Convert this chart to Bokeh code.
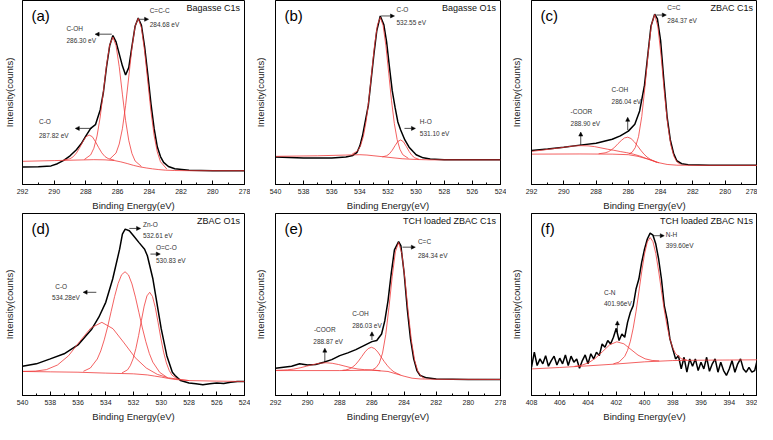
from bokeh.plotting import figure
from bokeh.models import Range1d, SingleIntervalTicker, FixedTicker, Label, Arrow, NormalHead
from bokeh.layouts import column, row
from bokeh.embed import file_html
from bokeh.resources import INLINE

# ---------------- data (intensity in % of panel height) ----------------
# (a) Bagasse C1s
A_BLACK_X = [292, 291, 290.2, 289.8, 289.4, 289.0, 288.6, 288.3, 288.0, 287.7, 287.4, 287.1, 286.9, 286.7, 286.5, 286.3, 286.1, 285.9, 285.7, 285.5, 285.3, 285.1, 284.9, 284.7, 284.5, 284.3, 284.1, 283.9, 283.7, 283.5, 283.3, 283.1, 282.8, 282.4, 281.5, 280, 278]
A_BLACK_Y = [9.5, 9.7, 10.1, 11.3, 13.1, 15.6, 18.9, 22.1, 26.4, 30.5, 32.5, 40.5, 50, 64, 75.5, 81, 77.5, 71, 64.5, 59.5, 63.5, 75, 86, 90.5, 86.5, 75, 60, 44, 30.5, 20.5, 15.2, 12, 9.8, 8.6, 7.8, 7.5, 7.5]
A_BASE_X = [292, 290, 288.5, 287.5, 286.8, 286.2, 285.8, 285.4, 285.0, 284.6, 284.2, 283.8, 283.4, 283.0, 282.4, 281.5, 278]
A_BASE_Y = [12.6, 13.0, 13.3, 13.5, 13.4, 13.0, 12.3, 11.4, 10.4, 9.6, 9.0, 8.5, 8.1, 7.8, 7.6, 7.5, 7.5]
A_CO_X = [289.4, 289.0, 288.8, 288.6, 288.4, 288.2, 288.0, 287.8, 287.6, 287.4, 287.2, 287.0, 286.8, 286.6, 286.2]
A_CO_Y = [13.3, 14.0, 15.1, 17.1, 19.9, 23.2, 25.9, 26.9, 26.0, 23.3, 20.1, 17.2, 15.2, 14.1, 13.2]
A_COH_X = [288.1, 287.7, 287.5, 287.3, 287.1, 286.9, 286.7, 286.5, 286.3, 286.1, 285.9, 285.7, 285.5, 285.3, 285.1, 284.9, 284.5]
A_COH_Y = [13.6, 16.1, 19.7, 26.3, 36.7, 50.4, 64.8, 75.9, 80.1, 75.5, 64.0, 49.1, 34.9, 24.0, 16.9, 12.8, 9.8]
A_CCC_X = [286.5, 286.1, 285.9, 285.7, 285.5, 285.3, 285.1, 284.9, 284.7, 284.5, 284.3, 284.1, 283.9, 283.7, 283.5, 283.3, 282.9]
A_CCC_Y = [13.8, 17.1, 22.0, 30.3, 42.8, 58.4, 74.1, 86.0, 90.3, 85.2, 72.5, 56.1, 39.8, 26.6, 17.7, 12.4, 8.4]

# (b) Bagasse O1s
B_BLACK_X = [540, 538, 536, 535, 534.5, 534.2, 534.0, 533.8, 533.6, 533.4, 533.2, 533.0, 532.8, 532.55, 532.3, 532.1, 531.9, 531.7, 531.5, 531.3, 531.1, 530.8, 530.5, 530.2, 530.0, 529.5, 529, 528, 526, 524]
B_BLACK_Y = [14.9, 14.4, 14.4, 14.9, 15.8, 17.5, 21, 27, 35, 43, 57, 71, 83.5, 91.6, 87, 77.5, 64, 51, 42, 34, 29.6, 24.2, 20.3, 17.8, 16.2, 14.5, 13.8, 13.5, 13.5, 13.5]
B_BASE_X = [540, 537, 535, 534, 533.5, 533, 532, 531, 530, 529, 524]
B_BASE_Y = [15.3, 15.6, 16.0, 16.2, 16.0, 15.6, 14.8, 14.0, 13.6, 13.4, 13.4]
B_CO_X = [534.55, 534.15, 533.95, 533.75, 533.55, 533.35, 533.15, 532.95, 532.75, 532.55, 532.35, 532.15, 531.95, 531.75, 531.55, 531.35, 531.15, 530.95, 530.55]
B_CO_Y = [16.5, 18.3, 21.1, 26.2, 34.7, 46.9, 61.6, 76.0, 86.8, 90.8, 86.5, 75.4, 60.5, 45.5, 33.1, 24.4, 19.1, 16.2, 14.2]
B_HO_X = [532.4, 532.1, 531.9, 531.7, 531.5, 531.3, 531.1, 530.9, 530.7, 530.5, 530.3, 530.1, 529.8]
B_HO_Y = [15.0, 15.6, 16.7, 18.6, 21.1, 23.4, 24.2, 23.2, 20.7, 18.0, 15.8, 14.5, 13.7]

# (c) ZBAC C1s
C_BLACK_X = [292, 291, 290, 289, 288, 287, 286.5, 286.0, 285.6, 285.3, 285.0, 284.8, 284.6, 284.37, 284.2, 284.0, 283.8, 283.6, 283.4, 283.2, 283.0, 282.7, 282.3, 281, 280, 278]
C_BLACK_Y = [18.5, 19.3, 20.3, 21.4, 22.4, 24.6, 26.4, 29.0, 32.7, 40, 54, 70, 86, 92.6, 90, 78, 56.5, 36.8, 24.2, 17, 12.9, 11.3, 10.8, 10.4, 10.4, 10.4]
C_BASE_X = [292, 289, 287, 286, 285.4, 284.8, 284.2, 283.6, 283.0, 282, 278]
C_BASE_Y = [16.5, 16.6, 16.5, 16.2, 15.3, 13.8, 12.0, 10.9, 10.5, 10.4, 10.4]
C_CC_X = [285.97, 285.77, 285.57, 285.37, 285.17, 284.97, 284.77, 284.57, 284.37, 284.17, 283.97, 283.77, 283.57, 283.37, 283.17, 282.97, 282.77]
C_CC_Y = [16.7, 17.5, 20.1, 26.0, 36.9, 53.2, 71.7, 86.8, 92.4, 85.7, 69.6, 50.1, 33.1, 21.5, 15.1, 12.1, 11.0]
C_COH_X = [287.84, 287.44, 287.24, 287.04, 286.84, 286.64, 286.44, 286.24, 286.04, 285.84, 285.64, 285.44, 285.24, 285.04, 284.84, 284.64, 284.24]
C_COH_Y = [16.7, 17.2, 17.8, 18.9, 20.3, 22.2, 23.9, 25.3, 25.7, 25.0, 23.3, 21.1, 18.7, 16.6, 14.9, 13.7, 12.0]
C_COOR_X = [292, 291.7, 291.3, 290.9, 290.5, 290.1, 289.7, 289.3, 288.9, 288.5, 288.1, 287.7, 287.3, 286.9, 286.5, 286.1, 285.7, 285.3, 284.9, 284.1]
C_COOR_Y = [18.0, 18.3, 18.7, 19.2, 19.6, 20.1, 20.6, 21.0, 21.1, 21.0, 20.6, 19.9, 19.2, 18.6, 17.9, 17.3, 16.5, 15.5, 14.2, 11.8]

# (d) ZBAC O1s
D_BLACK_X = [540, 539, 538, 537, 536, 535, 534.5, 534, 533.5, 533, 532.8, 532.6, 532.3, 532, 531.6, 531.2, 531, 530.6, 530.2, 530, 529.6, 529.2, 529, 528.6, 528, 527.5, 527, 526.5, 526, 525.5, 525, 524.5, 524]
D_BLACK_Y = [16.1, 17.4, 20.1, 22.9, 27.8, 36.6, 43, 51.2, 64, 80.4, 88.7, 91.4, 90.5, 87.8, 84, 80.4, 76.8, 64, 45.7, 36.6, 21.9, 12.8, 11, 8.2, 6.9, 6.4, 5.9, 6.4, 6.9, 6.6, 7.3, 7.7, 7.7]
D_BASE_X = [540, 538, 536, 534, 532, 531, 530.5, 530, 529.5, 529, 528, 526, 524]
D_BASE_Y = [13.2, 13.0, 12.8, 12.3, 11.9, 11.3, 10.7, 10.1, 9.4, 8.8, 8.2, 7.9, 7.7]
D_CO_X = [540, 539.08, 538.28, 537.48, 536.68, 535.88, 535.08, 534.28, 533.48, 532.68, 531.88, 531.08, 530.28, 529.48, 528.0]
D_CO_Y = [13.25, 13.4, 14.2, 16.75, 21.85, 29.65, 37.05, 40.2, 36.7, 28.9, 20.8, 15.1, 11.6, 9.7, 8.2]
D_ZNO_X = [535.61, 535.11, 534.61, 534.36, 534.11, 533.86, 533.61, 533.36, 533.11, 532.86, 532.61, 532.36, 532.11, 531.86, 531.61, 531.36, 531.11, 530.86, 530.61, 530.11, 529.61]
D_ZNO_Y = [13.3, 15.1, 20.05, 24.5, 30.55, 37.85, 46.2, 54.45, 61.5, 66.35, 68.0, 66.25, 61.3, 54.05, 45.6, 37.1, 29.55, 23.1, 18.35, 12.7, 10.1]
D_OCO_X = [532.83, 532.43, 532.23, 532.03, 531.83, 531.63, 531.43, 531.23, 531.03, 530.83, 530.63, 530.43, 530.23, 530.03, 529.83, 529.63, 529.43, 529.23, 528.83]
D_OCO_Y = [12.4, 14.1, 16.4, 20.15, 25.75, 33.0, 41.25, 49.1, 54.75, 56.7, 54.4, 48.4, 40.2, 31.5, 23.8, 17.9, 13.8, 11.2, 9.0]

# (e) TCH loaded ZBAC C1s
E_BLACK_X = [292, 291, 290.5, 290, 289.5, 289, 288.5, 288, 287.5, 287, 286.5, 286.0, 285.7, 285.4, 285.2, 285.0, 284.8, 284.6, 284.34, 284.2, 284.0, 283.8, 283.6, 283.4, 283.2, 283.0, 282.6, 282, 280, 278]
E_BLACK_Y = [15, 16.1, 17.4, 16.8, 17, 18.3, 19.7, 21.9, 23.4, 25.2, 27.4, 29.6, 30.2, 33.8, 41, 52, 67, 80, 84.5, 82.3, 67.6, 47.5, 31.1, 20.1, 13.7, 11, 9.7, 9.1, 8.8, 8.8]
E_BASE_X = [292, 288, 286, 285, 284.5, 284, 283.5, 283, 282, 278]
E_BASE_Y = [13.7, 13.7, 13.9, 13.2, 11.9, 10.6, 9.5, 9.1, 8.9, 8.8]
E_COOR_X = [292, 291.67, 291.27, 290.87, 290.47, 290.07, 289.67, 289.27, 288.87, 288.47, 288.07, 287.67, 287.27, 286.87, 286.47, 286.07, 285.47]
E_COOR_Y = [13.8, 13.9, 14.1, 14.5, 15.2, 16.1, 17.0, 17.7, 18.0, 17.7, 17.0, 16.1, 15.2, 14.55, 14.2, 14.1, 13.6]
E_COH_X = [287.83, 287.63, 287.43, 287.23, 287.03, 286.83, 286.63, 286.43, 286.23, 286.03, 285.83, 285.63, 285.43, 285.23, 285.03, 284.83, 284.63, 284.43, 284.23]
E_COH_Y = [13.85, 14.05, 14.5, 15.45, 16.9, 19.0, 21.45, 23.95, 25.8, 26.5, 25.75, 23.85, 21.2, 18.6, 16.3, 14.4, 13.0, 12.1, 11.35]
E_CC_X = [285.94, 285.74, 285.54, 285.34, 285.14, 284.94, 284.74, 284.54, 284.34, 284.14, 283.94, 283.74, 283.54, 283.34, 283.14, 282.94, 282.74]
E_CC_Y = [14.3, 15.35, 17.8, 23.3, 33.5, 48.4, 65.2, 79.0, 84.1, 78.1, 63.4, 45.6, 30.0, 19.2, 13.3, 10.6, 9.4]

# (f) TCH loaded ZBAC N1s
F_BLACK_X = [408.0, 407.8, 407.6, 407.4, 407.2, 407.0, 406.8, 406.6, 406.4, 406.2, 406.0, 405.8, 405.6, 405.4, 405.2, 405.0, 404.8, 404.6, 404.4, 404.2, 404.0, 403.8, 403.6, 403.4, 403.2, 403.0, 402.8, 402.6, 402.4, 402.2, 402.0, 401.8, 401.6, 401.4, 401.2, 401.0, 400.8, 400.6, 400.4, 400.2, 400.0, 399.8, 399.6, 399.4, 399.2, 399.0, 398.8, 398.6, 398.4, 398.2, 398.0, 397.8, 397.6, 397.4, 397.2, 397.0, 396.8, 396.6, 396.4, 396.2, 396.0, 395.8, 395.6, 395.4, 395.2, 395.0, 394.8, 394.6, 394.4, 394.2, 394.0, 393.8, 393.6, 393.4, 393.2, 393.0, 392.8, 392.6, 392.4, 392.2, 392.0]
F_BLACK_Y = [15.5, 23.8, 16.5, 20.1, 17.4, 21.9, 16.1, 19.2, 21.6, 16.8, 20.5, 17.4, 22.3, 16.5, 21.6, 18.3, 20.1, 15.0, 19.2, 22.3, 17.4, 22.9, 20.1, 23.8, 21.9, 28.3, 26.5, 30.2, 28.3, 32.0, 36.9, 30.2, 33.8, 32.0, 40.2, 45.7, 49.4, 58.5, 64.0, 73.1, 80.4, 86.0, 89.2, 88.1, 83.2, 75.0, 64.0, 49.4, 42.0, 31.1, 25.6, 20.1, 21.9, 14.6, 21.0, 12.8, 20.1, 16.1, 20.1, 13.7, 18.3, 14.6, 21.0, 13.3, 17.4, 20.1, 12.8, 18.3, 13.7, 11.0, 14.6, 19.2, 12.8, 17.4, 20.1, 14.6, 12.8, 15.5, 12.8, 13.7, 20.1]
F_BASE_X = [408, 406, 404, 402, 400, 398, 396, 394, 392]
F_BASE_Y = [14.6, 15.4, 16.3, 17.3, 18.5, 19.2, 19.4, 19.5, 19.6]
F_CN_X = [404.96, 404.46, 403.96, 403.46, 402.96, 402.46, 401.96, 401.46, 400.96, 400.46, 399.96, 399.46, 398.96]
F_CN_Y = [16.0, 16.6, 17.95, 20.6, 24.2, 27.9, 29.5, 28.4, 25.3, 22.2, 20.15, 19.25, 19.0]
F_NH_X = [402.2, 401.8, 401.4, 401.2, 401.0, 400.8, 400.6, 400.4, 400.2, 400.0, 399.8, 399.6, 399.4, 399.2, 399.0, 398.8, 398.6, 398.4, 398.2, 398.0, 397.8, 397.4, 397.0]
F_NH_Y = [17.4, 18.35, 21.5, 24.8, 29.8, 37.0, 46.1, 56.9, 67.9, 77.7, 84.4, 86.8, 84.5, 78.0, 68.4, 57.6, 47.0, 38.1, 31.0, 26.2, 23.0, 20.25, 19.5]

TAGS = ["(a)", "(b)", "(c)", "(d)", "(e)", "(f)"]
TITLES = ["Bagasse  C1s", "Bagasse  O1s", "ZBAC  C1s", "ZBAC  O1s", "TCH loaded ZBAC  C1s", "TCH loaded ZBAC  N1s"]

# annotation texts
A_NOTES = [("C=C-C", 283.98, 94.6), ("284.68 eV", 283.98, 87.1), ("C-OH", 289.23, 84.7), ("286.30 eV", 289.23, 78.1), ("C-O", 290.96, 34.1), ("287.82 eV", 290.96, 26.9)]
B_NOTES = [("C-O", 531.4, 95.2), ("532.55 eV", 531.4, 88), ("H-O", 529.74, 34.5), ("531.10 eV", 529.74, 27.5)]
C_NOTES = [("C=C", 283.59, 96), ("284.37 eV", 283.59, 89.2), ("C-OH", 287.04, 51.5), ("286.04 eV", 287.04, 45.2), ("-COOR", 289.58, 39.5), ("288.90 eV", 289.58, 32.9)]
D_NOTES = [("Zn-O", 531.32, 94), ("532.61 eV", 531.32, 87.7), ("O=C-O", 530.38, 81.4), ("530.83 eV", 530.38, 74.4), ("C-O", 537.64, 60), ("534.28eV", 537.87, 53.9)]
E_NOTES = [("C=C", 283.14, 84.5), ("284.34 eV", 283.14, 77.1), ("C-OH", 287.23, 45.3), ("286.03 eV", 287.23, 38.4), ("-COOR", 289.61, 36.2), ("288.87 eV", 289.65, 29.6)]
F_NOTES = [("N-H", 398.5, 88.7), ("399.60eV", 398.5, 82.3), ("C-N", 402.87, 56.7), ("401.96eV", 402.87, 50.3)]

A_ARROWS = [(284.6, 89.8, 284.05, 89.8), (286.37, 81.7, 287.42, 81.7), (287.63, 30.5, 288.67, 30.5)]
B_ARROWS = [(532.49, 91.6, 531.54, 91.6), (530.83, 30.5, 530.05, 30.5)]
C_ARROWS = [(284.27, 92.1, 283.65, 92.1), (286.04, 29.5, 286.04, 36.5), (288.95, 21.5, 288.95, 28.5)]
D_ARROWS = [(532.3, 91.8, 531.49, 91.8), (530.78, 77.7, 530.07, 77.7), (534.68, 56.7, 535.63, 56.7)]
E_ARROWS = [(284.1, 81.5, 283.3, 81.5), (286.0, 30.5, 286.0, 35.0), (288.93, 18.5, 288.93, 26.0)]
F_ARROWS = [(399.4, 87.8, 398.6, 87.8), (401.92, 33.5, 401.92, 41.0)]

# ---------------- styling ----------------
FONT = "Liberation Sans"
RED = "#f03a3a"


def make_panel(xr, black, base, comps, tag, title, notes, arrows,
               width, height, bl, br, bb, ylab_standoff, xlab_standoff):
    p = figure(width=width, height=height, x_range=Range1d(xr[0], xr[1]),
               y_range=Range1d(0, 100), output_backend="svg", toolbar_location=None,
               min_border_left=bl, min_border_right=br, min_border_top=0,
               min_border_bottom=bb)
    p.outline_line_color = "black"
    p.outline_line_width = 1
    p.grid.visible = False
    p.background_fill_color = "white"
    p.border_fill_color = "white"

    xa = p.xaxis[0]
    xa.ticker = SingleIntervalTicker(interval=2, num_minor_ticks=2)
    xa.major_tick_in = 4
    xa.major_tick_out = 0
    xa.minor_tick_in = 2
    xa.minor_tick_out = 0
    xa.axis_line_color = "black"
    xa.major_tick_line_color = "black"
    xa.minor_tick_line_color = "black"
    xa.major_label_text_font = FONT
    xa.major_label_text_font_size = "7px"
    xa.major_label_text_color = "#222222"
    xa.major_label_standoff = 4
    xa.axis_label = "Binding Energy(eV)"
    xa.axis_label_text_font = FONT
    xa.axis_label_text_font_size = "9.5px"
    xa.axis_label_text_font_style = "normal"
    xa.axis_label_text_color = "#222222"
    xa.axis_label_standoff = xlab_standoff

    ya = p.yaxis[0]
    ya.ticker = FixedTicker(ticks=[])
    ya.major_tick_in = 0
    ya.major_tick_out = 0
    ya.minor_tick_in = 0
    ya.minor_tick_out = 0
    ya.major_label_standoff = 0
    ya.axis_line_color = "black"
    ya.axis_label = "Intensity(counts)"
    ya.axis_label_text_font = FONT
    ya.axis_label_text_font_size = "9.5px"
    ya.axis_label_text_font_style = "normal"
    ya.axis_label_text_color = "#222222"
    ya.axis_label_standoff = ylab_standoff

    p.line(black[0], black[1], line_color="black", line_width=1.5)
    p.line(base[0], base[1], line_color=RED, line_width=0.8)
    for cx, cy in comps:
        p.line(cx, cy, line_color=RED, line_width=0.8)

    for (t, x, y) in notes:
        p.add_layout(Label(x=x, y=y, text=t, text_font=FONT, text_font_size="6.5px",
                           text_color="#333333", text_align="left", text_baseline="middle"))
    for (x0, y0, x1, y1) in arrows:
        p.add_layout(Arrow(end=NormalHead(size=4, fill_color="black", line_color="black", line_width=0.5),
                           x_start=x0, y_start=y0, x_end=x1, y_end=y1,
                           line_color="black", line_width=0.7))

    p.add_layout(Label(x=xr[0], y=100, x_offset=9, y_offset=-15, text=tag, text_font=FONT,
                       text_font_size="15px", text_color="black", text_align="left",
                       text_baseline="middle"))
    p.add_layout(Label(x=xr[1], y=100, x_offset=-2, y_offset=-7, text=title, text_font=FONT,
                       text_font_size="9px", text_color="#111111", text_align="right",
                       text_baseline="middle"))
    return p


pa = make_panel((292, 278), (A_BLACK_X, A_BLACK_Y), (A_BASE_X, A_BASE_Y),
                [(A_CO_X, A_CO_Y), (A_COH_X, A_COH_Y), (A_CCC_X, A_CCC_Y)],
                TAGS[0], TITLES[0], A_NOTES, A_ARROWS, 250, 213, 19, 6, 28, 8, 3)
pb = make_panel((540, 524), (B_BLACK_X, B_BLACK_Y), (B_BASE_X, B_BASE_Y),
                [(B_CO_X, B_CO_Y), (B_HO_X, B_HO_Y)],
                TAGS[1], TITLES[1], B_NOTES, B_ARROWS, 256, 213, 25, 6, 28, 10, 3)
pc = make_panel((292, 278), (C_BLACK_X, C_BLACK_Y), (C_BASE_X, C_BASE_Y),
                [(C_COOR_X, C_COOR_Y), (C_COH_X, C_COH_Y), (C_CC_X, C_CC_Y)],
                TAGS[2], TITLES[2], C_NOTES, C_ARROWS, 251, 213, 25, 0, 28, 10, 3)
pd = make_panel((540, 524), (D_BLACK_X, D_BLACK_Y), (D_BASE_X, D_BASE_Y),
                [(D_CO_X, D_CO_Y), (D_ZNO_X, D_ZNO_Y), (D_OCO_X, D_OCO_Y)],
                TAGS[3], TITLES[3], D_NOTES, D_ARROWS, 250, 211, 19, 6, 27, 8, 3)
pe = make_panel((292, 278), (E_BLACK_X, E_BLACK_Y), (E_BASE_X, E_BASE_Y),
                [(E_COOR_X, E_COOR_Y), (E_COH_X, E_COH_Y), (E_CC_X, E_CC_Y)],
                TAGS[4], TITLES[4], E_NOTES, E_ARROWS, 256, 211, 25, 6, 27, 10, 3)
pf = make_panel((408, 392), (F_BLACK_X, F_BLACK_Y), (F_BASE_X, F_BASE_Y),
                [(F_CN_X, F_CN_Y), (F_NH_X, F_NH_Y)],
                TAGS[5], TITLES[5], F_NOTES, F_ARROWS, 251, 211, 25, 0, 27, 10, 3)

layout = column(row(pa, pb, pc), row(pd, pe, pf))
open("out.html", "w").write(file_html(layout, INLINE))
